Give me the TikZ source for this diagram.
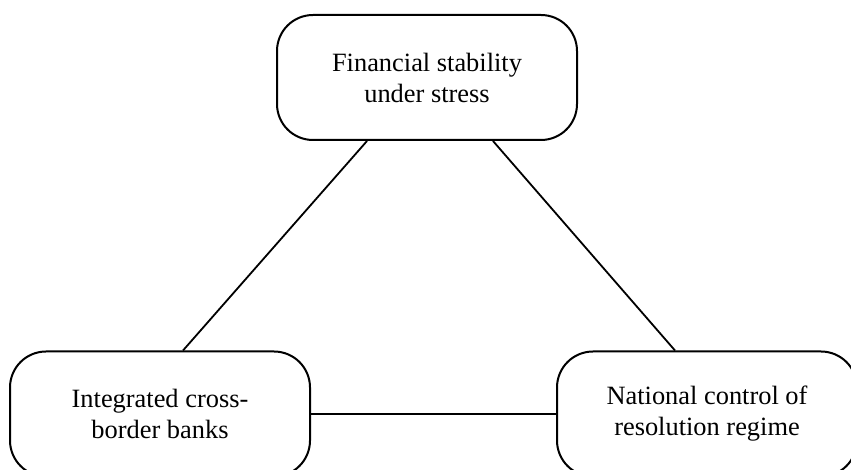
\documentclass[tikz,border=0pt]{standalone}
\usepackage{fontspec}
\setmainfont{Liberation Serif}
\usepackage{tikz}
\usetikzlibrary{positioning, shapes}

\begin{document}
\begin{tikzpicture}[x=0.5pt, y=0.5pt]
                    \tikzstyle{every node}=[font=\fontsize{13.2}{15.5}\selectfont]
                    \tikzstyle{vertex} = [draw=black, line width=1pt, rounded corners=18pt,
                    minimum width=150pt, minimum height=62.5pt, align=center, inner sep=0pt]
                    \tikzstyle{edge} = [line width=0.9pt]

                    \useasboundingbox (0,0) rectangle (851,470);
                    \clip (0,0) rectangle (851,470);

                    \node[vertex](v1) at (427,392.5) {Financial stability\\under stress};
                    \node[vertex](v2) at (160,56) {Integrated cross-\\border banks};
                    \node[vertex](v3) at (707,56) {National control of\\resolution regime};

                    \draw[edge] ([xshift=-30pt]v1.south) -- ([xshift=11.5pt]v2.north);
                    \draw[edge] ([xshift=33pt]v1.south) -- ([xshift=-16pt]v3.north);
                    \draw[edge] (v2.east) -- (v3.west);
            \end{tikzpicture}
\end{document}
